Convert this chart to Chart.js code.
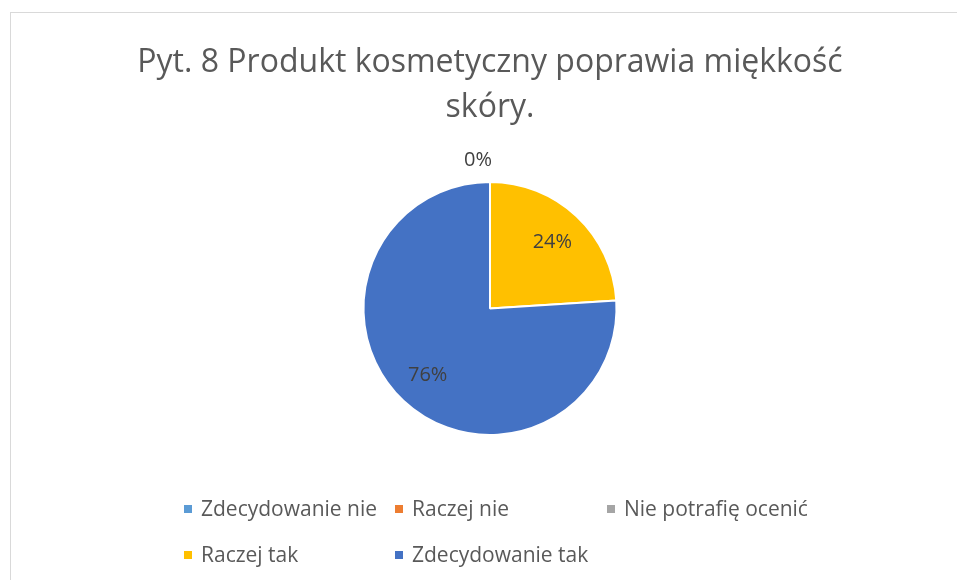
<!DOCTYPE html>
<html>
<head>
<meta charset="utf-8">
<script src="https://cdn.jsdelivr.net/npm/chart.js@4.4.1/dist/chart.umd.min.js"></script>
<style>
  body { margin: 0; background: #fff; width: 957px; height: 580px; overflow: hidden; font-family: "Open Sans", sans-serif; }
  #frame { position: absolute; left: 10px; top: 12px; width: 960px; height: 600px; border-top: 1px solid #d9d9d9; border-left: 1px solid #d9d9d9; }
  #wrap { position: absolute; left: 0; top: 0; width: 958px; height: 568px; }
  .item { position: absolute; font-size: 21px; color: #595959; white-space: nowrap; line-height: 24px; }
  .item span.box { display: inline-block; width: 8px; height: 8px; margin-right: 9px; vertical-align: 3px; }
</style>
</head>
<body>
<div id="frame">
  <div id="wrap"><canvas id="pieChart"></canvas></div>
  <div id="legend"></div>
</div>
<script>
const categories = ["Zdecydowanie nie", "Raczej nie", "Nie potrafię ocenić", "Raczej tak", "Zdecydowanie tak"];
const values = [0, 0, 0, 24, 76];
const colors = ["#5b9bd5", "#ed7d31", "#a5a5a5", "#ffc000", "#4472c4"];
const titleLines = ["Pyt. 8 Produkt kosmetyczny poprawia miękkość", "skóry."];

// legend laid out in a 3-column grid like Excel does
const colX = [173, 384, 596];
const rowY = [483, 529];
const legendEl = document.getElementById("legend");
categories.forEach((c, i) => {
  const d = document.createElement("div");
  d.className = "item";
  d.style.left = colX[i % 3] + "px";
  d.style.top = rowY[Math.floor(i / 3)] + "px";
  d.innerHTML = `<span class="box" style="background:${colors[i]}"></span>${c}`;
  legendEl.appendChild(d);
});

const pctLabels = {
  id: "pctLabels",
  afterDatasetsDraw(chart) {
    const ctx = chart.ctx;
    const meta = chart.getDatasetMeta(0);
    const total = values.reduce((a, b) => a + b, 0);
    let zeroDone = false;
    ctx.save();
    ctx.font = '20px "Open Sans", sans-serif';
    ctx.fillStyle = "#404040";
    ctx.textAlign = "center";
    ctx.textBaseline = "middle";
    meta.data.forEach((arc, i) => {
      const v = values[i];
      const p = arc.getProps(["x", "y", "startAngle", "endAngle", "outerRadius"], true);
      const mid = (p.startAngle + p.endAngle) / 2;
      let lx, ly;
      if (v === 0) {
        // zero slices all sit at the top, show one label outside
        if (zeroDone) return;
        zeroDone = true;
        lx = p.x + Math.cos(mid) * (p.outerRadius + 22) - 12;
        ly = p.y + Math.sin(mid) * (p.outerRadius + 22);
      } else {
        lx = p.x + Math.cos(mid) * p.outerRadius * 0.72;
        ly = p.y + Math.sin(mid) * p.outerRadius * 0.72;
      }
      ctx.fillText(Math.round(v / total * 100) + "%", lx, ly);
    });
    ctx.restore();
  }
};

new Chart(document.getElementById("pieChart"), {
  type: "pie",
  data: {
    labels: categories,
    datasets: [{
      data: values,
      backgroundColor: colors,
      borderColor: "#ffffff",
      borderWidth: 2
    }]
  },
  options: {
    responsive: true,
    maintainAspectRatio: false,
    animation: false,
    layout: { padding: { top: 0, bottom: 145, left: 0, right: 0 } },
    plugins: {
      legend: { display: false },
      tooltip: { enabled: false },
      title: {
        display: true,
        text: titleLines,
        color: "#595959",
        font: { family: '"Open Sans", sans-serif', size: 32, weight: "normal", lineHeight: 45 / 32 },
        padding: { top: 27, bottom: 51 }
      }
    }
  },
  plugins: [pctLabels]
});
</script>
</body>
</html>
